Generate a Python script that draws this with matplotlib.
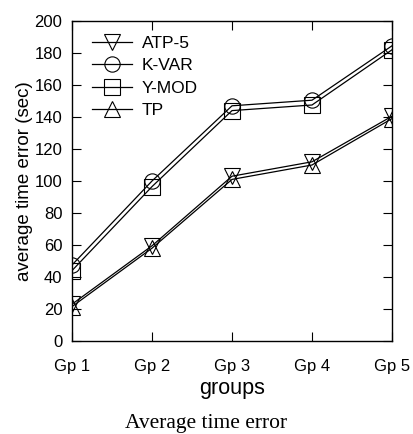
import matplotlib
matplotlib.use('Agg')
import matplotlib.pyplot as plt

groups = ['Gp 1', 'Gp 2', 'Gp 3', 'Gp 4', 'Gp 5']
atp5 = [23, 59.5, 103, 112, 140.5]
kvar = [47.5, 100, 147, 150.5, 184.5]
ymod = [44, 96.5, 144, 147.5, 182]
tp = [21.5, 58, 101, 110, 139]

plt.rcParams['font.family'] = ['Liberation Sans', 'DejaVu Sans']

fig = plt.figure(figsize=(4.13, 4.34), dpi=100)
ax = fig.add_axes([72 / 413, 1 - 341 / 434, 320 / 413, 320 / 434])

x = list(range(len(groups)))
style = dict(color='black', linewidth=0.9, markerfacecolor='none',
             markeredgecolor='black', markeredgewidth=0.8, markersize=11)
ax.plot(x, atp5, marker='v', label='ATP-5', **style)
ax.plot(x, kvar, marker='o', label='K-VAR', **style)
ax.plot(x, ymod, marker='s', label='Y-MOD', **style)
ax.plot(x, tp, marker='^', label='TP', **style)

ax.set_xlim(0, 4)
ax.set_ylim(0, 200)
ax.set_xticks(x)
ax.set_xticklabels(groups)
ax.set_yticks(range(0, 201, 20))
ax.tick_params(direction='in', top=True, right=True, length=6.5, width=0.8,
               labelsize=12)
ax.tick_params(axis='x', pad=13)
ax.tick_params(axis='y', pad=7)
for s in ax.spines.values():
    s.set_linewidth(1.0)
ax.set_xlabel('groups', fontsize=15.5, labelpad=3)
ax.set_ylabel('average time error (sec)', fontsize=13.5, labelpad=1)

ax.legend(loc='upper left', frameon=False, fontsize=12.5, handlelength=2.3,
          borderaxespad=0, borderpad=0, labelspacing=0.41, handletextpad=0.55,
          bbox_to_anchor=(0.0625, 0.953))

fig.text(0.5, 1 - 428 / 434, 'Average time error', ha='center', va='baseline',
         fontsize=15.5, family=['Liberation Serif', 'DejaVu Serif'])

fig.savefig('out.png', dpi=100)
